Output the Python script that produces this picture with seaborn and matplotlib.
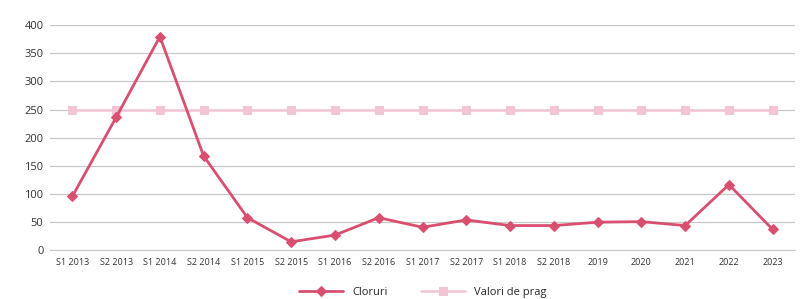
import matplotlib
matplotlib.use("Agg")
import matplotlib.pyplot as plt
import seaborn as sns
import pandas as pd

# Date
perioade = ["S1 2013", "S2 2013", "S1 2014", "S2 2014", "S1 2015", "S2 2015",
            "S1 2016", "S2 2016", "S1 2017", "S2 2017", "S1 2018", "S2 2018",
            "2019", "2020", "2021", "2022", "2023"]
cloruri = [95, 236, 380, 167, 57, 14, 26, 57, 40, 53, 43, 43, 49, 50, 43, 116, 36]
valori_prag = [250] * len(perioade)

df = pd.DataFrame({"perioada": perioade, "Cloruri": cloruri, "Valori de prag": valori_prag})
df["x"] = range(len(perioade))

sns.set_style("white")
plt.rcParams["font.family"] = ["Open Sans", "DejaVu Sans"]

fig, ax = plt.subplots(figsize=(8.01, 2.99), dpi=100)
fig.subplots_adjust(left=0.063, right=0.992, top=0.915, bottom=0.165)

sns.lineplot(data=df, x="x", y="Valori de prag", ax=ax, color="#f2c4d4",
             marker="s", markersize=6, markeredgecolor="#f2c4d4",
             linewidth=1.8, label="Valori de prag", zorder=2)
sns.lineplot(data=df, x="x", y="Cloruri", ax=ax, color="#d94f70",
             marker="D", markersize=5, markeredgecolor="#d94f70",
             linewidth=2, label="Cloruri", zorder=3)

ax.set_ylim(0, 400)
ax.set_yticks(range(0, 401, 50))
ax.set_xlim(-0.5, len(perioade) - 0.5)
ax.set_xticks(df["x"])
ax.set_xticklabels(perioade)
ax.tick_params(axis="x", labelsize=6.5, colors="#333333", length=0, pad=6)
ax.tick_params(axis="y", labelsize=8, colors="#333333", length=0, pad=5)
ax.set_xlabel("")
ax.set_ylabel("")
ax.yaxis.grid(True, color="#c8c8c8", linewidth=0.9)
for s in ["top", "right", "left"]:
    ax.spines[s].set_visible(False)
ax.spines["bottom"].set_color("#c8c8c8")

handles, labels = ax.get_legend_handles_labels()
ax.legend(handles[::-1], labels[::-1], loc="upper center", bbox_to_anchor=(0.5, -0.12),
          ncol=2, frameon=False, fontsize=8, handlelength=4, columnspacing=3)

plt.savefig("out.png", dpi=100)
